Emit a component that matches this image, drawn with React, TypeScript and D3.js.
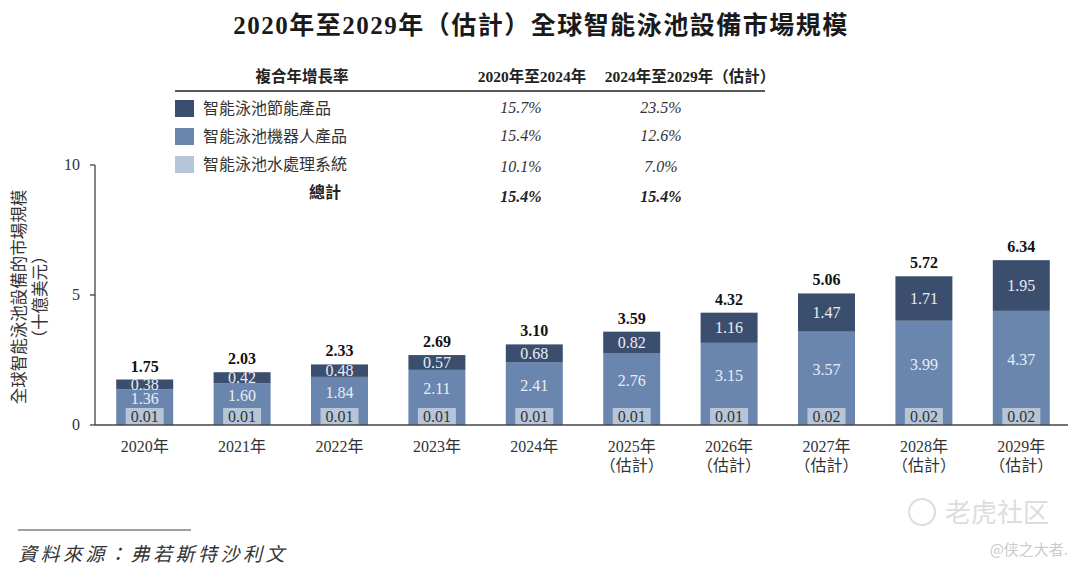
import React from "react";
import * as d3 from "d3";

const years = ["2020", "2021", "2022", "2023", "2024", "2025", "2026", "2027", "2028", "2029"];
const estimated = [false, false, false, false, false, true, true, true, true, true];
const waterTreatment = [0.01, 0.01, 0.01, 0.01, 0.01, 0.01, 0.01, 0.02, 0.02, 0.02];
const robotProducts = [1.36, 1.6, 1.84, 2.11, 2.41, 2.76, 3.15, 3.57, 3.99, 4.37];
const energyProducts = [0.38, 0.42, 0.48, 0.57, 0.68, 0.82, 1.16, 1.47, 1.71, 1.95];
const totals = [1.75, 2.03, 2.33, 2.69, 3.1, 3.59, 4.32, 5.06, 5.72, 6.34];
const yTicks = [0, 5, 10];

const seriesNames = ["智能泳池節能產品", "智能泳池機器人產品", "智能泳池水處理系統"];
const cagr2020to2024 = ["15.7%", "15.4%", "10.1%"];
const cagr2024to2029 = ["23.5%", "12.6%", "7.0%"];
const totalCagr = ["15.4%", "15.4%"];

const colors = ["#3c4e6d", "#6a86ae", "#b7c5d8"];
const FONT = "'Liberation Serif', 'Noto Sans CJK TC', serif";

export default function App() {
  const W = 1080;
  const H = 576;
  const axisX = 95;
  const x = d3.scaleBand<string>().domain(years).range([96, 1070]).paddingInner(0.415).paddingOuter(0.2075);
  const y = d3.scaleLinear().domain([0, 10]).range([425, 165]);
  const bw = x.bandwidth();
  const boxW = 38;
  const boxH = 17;

  return (
    <svg width={W} height={H} style={{ position: "absolute", left: 0, top: 0, background: "#fff" }} fontFamily={FONT}>
      <text x={541} y={34} textAnchor="middle" fontSize={25} fontWeight="bold" letterSpacing={1.5} fill="#1a1a1a">
        2020年至2029年（估計）全球智能泳池設備市場規模
      </text>

      {/* CAGR table */}
      <g fill="#222">
        <text x={302} y={82} textAnchor="middle" fontSize={15.5} fontWeight="bold">複合年增長率</text>
        <text x={532} y={82} textAnchor="middle" fontSize={15.5} fontWeight="bold">2020年至2024年</text>
        <text x={690} y={82} textAnchor="middle" fontSize={15.5} fontWeight="bold">2024年至2029年（估計）</text>
        <line x1={175} x2={765} y1={91} y2={91} stroke="#222" strokeWidth={1.5} />
        {seriesNames.map((n, i) => (
          <g key={n}>
            <rect x={175} y={100 + i * 28} width={19} height={17} fill={colors[i]} />
            <text x={203} y={114 + i * 28} fontSize={16} fill="#333">{n}</text>
            <text x={521} y={113 + i * 28 + (i === 2 ? 3 : 0)} textAnchor="middle" fontSize={16} fontStyle="italic" fill="#333">{cagr2020to2024[i]}</text>
            <text x={661} y={113 + i * 28 + (i === 2 ? 3 : 0)} textAnchor="middle" fontSize={16} fontStyle="italic" fill="#333">{cagr2024to2029[i]}</text>
          </g>
        ))}
        <text x={325} y={198} textAnchor="middle" fontSize={16} fontWeight="bold">總計</text>
        <text x={521} y={202} textAnchor="middle" fontSize={16} fontStyle="italic" fontWeight="bold">{totalCagr[0]}</text>
        <text x={661} y={202} textAnchor="middle" fontSize={16} fontStyle="italic" fontWeight="bold">{totalCagr[1]}</text>
      </g>

      {/* y axis */}
      <line x1={axisX} x2={axisX} y1={y(10)} y2={y(0)} stroke="#333" strokeWidth={1.2} />
      {yTicks.map((t) => (
        <g key={t}>
          <line x1={axisX - 5} x2={axisX} y1={y(t)} y2={y(t)} stroke="#333" strokeWidth={1.2} />
          <text x={80} y={y(t) + 5} textAnchor="end" fontSize={16} fill="#333">{t}</text>
        </g>
      ))}
      <g transform="translate(25,297) rotate(-90)">
        <text x={0} y={0} textAnchor="middle" fontSize={16.5} fill="#333">全球智能泳池設備的市場規模</text>
        <text x={0} y={21} textAnchor="middle" fontSize={16.5} fill="#333">（十億美元）</text>
      </g>

      {/* bars */}
      {years.map((yr, i) => {
        const x0 = x(yr)!;
        const cx = x0 + bw / 2;
        const robotTop = y(waterTreatment[i] + robotProducts[i]);
        const energyTop = y(totals[i]);
        const boxTop = y(0) - boxH;
        return (
          <g key={yr}>
            <rect x={x0} y={robotTop} width={bw} height={y(0) - robotTop} fill={colors[1]} />
            <rect x={x0} y={energyTop} width={bw} height={robotTop - energyTop} fill={colors[0]} />
            <rect x={cx - boxW / 2} y={boxTop} width={boxW} height={boxH} fill={colors[2]} />
            <text x={cx} y={(energyTop + robotTop) / 2 + 5.5} textAnchor="middle" fontSize={16} fill="#e8edf5">
              {energyProducts[i].toFixed(2)}
            </text>
            <text x={cx} y={(robotTop + boxTop) / 2 + 5.5} textAnchor="middle" fontSize={16} fill="#e8edf5">
              {robotProducts[i].toFixed(2)}
            </text>
            <text x={cx} y={boxTop + 14} textAnchor="middle" fontSize={16} fill="#333">
              {waterTreatment[i].toFixed(2)}
            </text>
            <text x={cx} y={energyTop - 8} textAnchor="middle" fontSize={16} fontWeight="bold" fill="#111">
              {totals[i].toFixed(2)}
            </text>
            <text x={cx} y={452} textAnchor="middle" fontSize={16} fill="#333">{yr}年</text>
            {estimated[i] && (
              <text x={cx} y={471} textAnchor="middle" fontSize={16} fill="#333">（估計）</text>
            )}
          </g>
        );
      })}
      <line x1={axisX} x2={1068} y1={y(0)} y2={y(0)} stroke="#444" strokeWidth={1.5} />

      {/* source */}
      <line x1={18} x2={191} y1={530} y2={530} stroke="#444" strokeWidth={1.2} />
      <text x={18} y={561} fontSize={19} fontStyle="italic" letterSpacing={3.5} fill="#333">資料來源：弗若斯特沙利文</text>

      {/* watermark */}
      <circle cx={922} cy={512} r={13} fill="none" stroke="#ddd" strokeWidth={2} />
      <text x={945} y={522} fontSize={26} fill="#ddd" fontFamily="'Noto Sans CJK SC', sans-serif">老虎社区</text>
      <text x={1068} y={555} textAnchor="end" fontSize={15} fill="#ccc" fontFamily="'Noto Sans CJK SC', sans-serif">@侠之大者.</text>
    </svg>
  );
}
